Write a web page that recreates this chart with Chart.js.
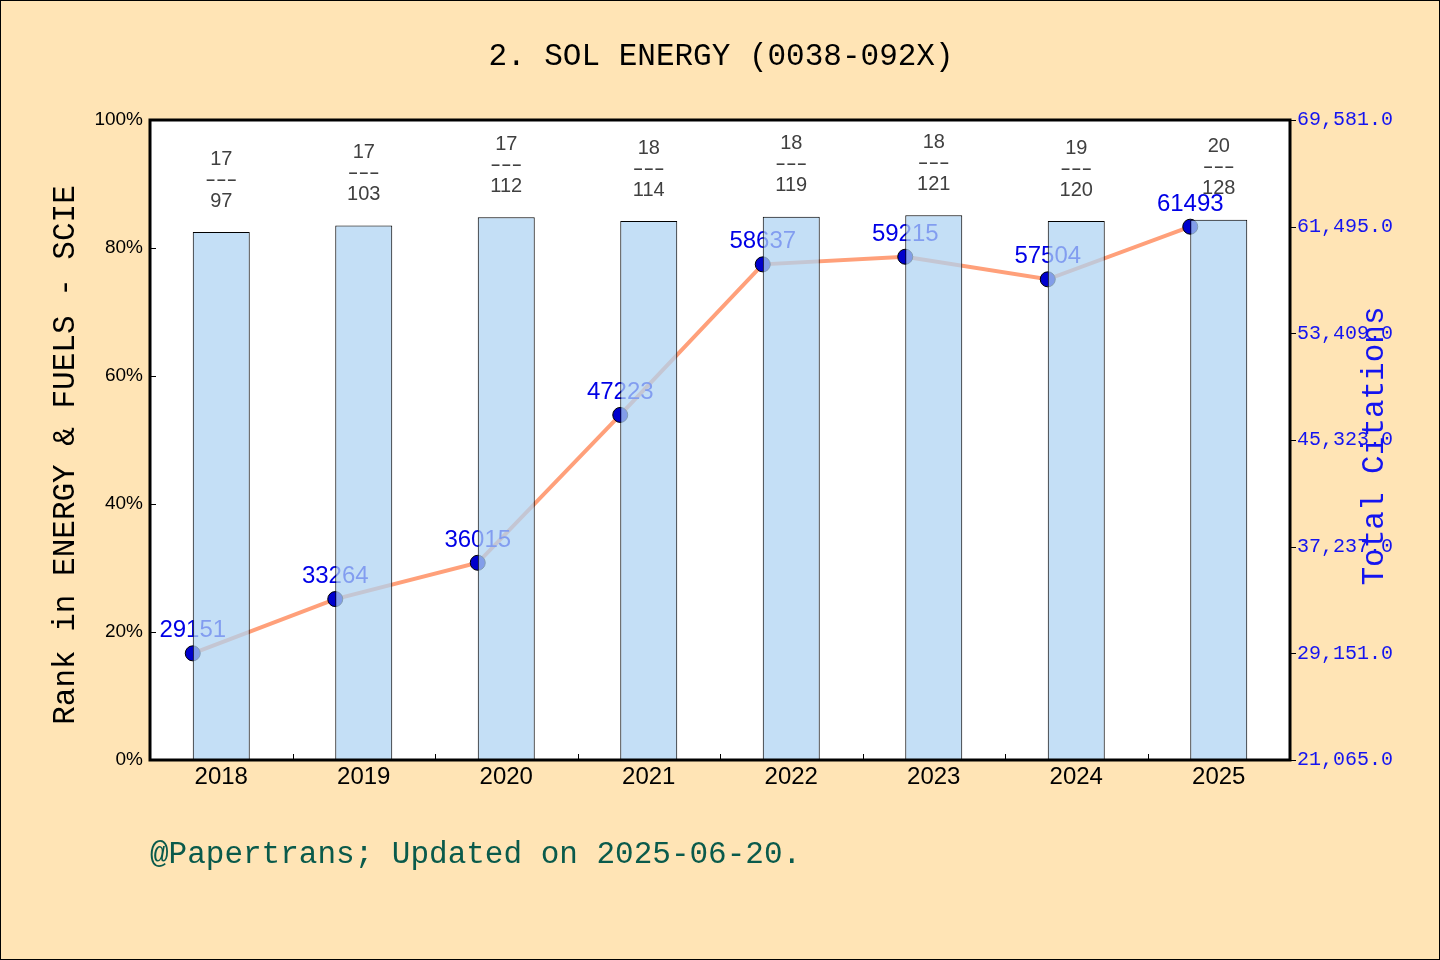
<!DOCTYPE html>
<html>
<head>
<meta charset="utf-8">
<script src="https://cdn.jsdelivr.net/npm/chart.js@4.4.1/dist/chart.umd.min.js"></script>
<style>
html,body{margin:0;padding:0;background:#FFE4B5;}
canvas{display:block;}
</style>
</head>
<body>
<canvas id="c" width="1440" height="960"></canvas>
<script>
// ---- data ----
const TITLE = '2. SOL ENERGY (0038-092X)';
const FOOTER = '@Papertrans; Updated on 2025-06-20.';
const LEFT_TITLE = 'Rank in ENERGY & FUELS - SCIE';
const RIGHT_TITLE = 'Total Citations';
const years = ['2018', '2019', '2020', '2021', '2022', '2023', '2024', '2025'];
const ranks = [17, 17, 17, 18, 18, 18, 19, 20];
const totals = [97, 103, 112, 114, 119, 121, 120, 128];
const percentiles = [0.825, 0.835, 0.848, 0.842, 0.849, 0.851, 0.842, 0.844];
const citations = [29151, 33264, 36015, 47223, 58637, 59215, 57504, 61493];
const leftTicks = [0, 0.2, 0.4, 0.6, 0.8, 1.0];
const rightTicks = [21065, 29151, 37237, 45323, 53409, 61495, 69581];

// ---- styles ----
const W = 1440, H = 960;
const MONO = "'Liberation Mono', 'DejaVu Sans Mono', monospace";
const SANS = "'Liberation Sans', Arial, sans-serif";
const BAR_FRACTION = 0.4;
const POINT_SHIFT = BAR_FRACTION / 2;

const decor = {
  id: 'decor',
  beforeDraw(chart) {
    const c = chart.ctx, a = chart.chartArea;
    c.save();
    c.fillStyle = '#FFE4B5';
    c.fillRect(0, 0, W, H);
    c.fillStyle = '#FFFFFF';
    c.fillRect(a.left, a.top, a.right - a.left, a.bottom - a.top);
    c.restore();
  },
  afterDatasetDraw(chart, args) {
    if (chart.data.datasets[args.index].type !== 'line') return;
    const c = chart.ctx;
    c.save();
    c.font = '24px ' + SANS;
    c.fillStyle = '#0000E6';
    c.textAlign = 'center';
    c.textBaseline = 'alphabetic';
    args.meta.data.forEach((pt, i) => {
      c.fillText(String(citations[i]), pt.x, pt.y - 16);
    });
    c.restore();
  },
  afterDatasetsDraw(chart) {
    const c = chart.ctx, a = chart.chartArea;
    const barMeta = chart.getDatasetMeta(0);
    c.save();
    // rank labels
    c.fillStyle = '#404040';
    c.textAlign = 'center';
    c.textBaseline = 'middle';
    barMeta.data.forEach((bar, i) => {
      c.font = '20px ' + SANS;
      c.fillText(String(ranks[i]), bar.x, bar.y - 73);
      c.save();
      c.translate(bar.x, bar.y - 52);
      c.scale(1.6, 1);
      c.fillText('---', 0, 0);
      c.restore();
      c.fillText(String(totals[i]), bar.x, bar.y - 31);
    });
    // tick marks
    c.strokeStyle = '#000';
    c.lineWidth = 1;
    const ys = chart.scales.y, y2 = chart.scales.y2, xs = chart.scales.x;
    leftTicks.forEach(v => {
      const py = Math.round(ys.getPixelForValue(v)) + 0.5;
      c.beginPath(); c.moveTo(a.left, py); c.lineTo(a.left + 6, py); c.stroke();
    });
    rightTicks.forEach(v => {
      const py = Math.round(y2.getPixelForValue(v)) + 0.5;
      c.beginPath(); c.moveTo(a.right, py); c.lineTo(a.right + 6, py); c.stroke();
    });
    for (let i = 1; i < years.length; i++) {
      const px = Math.round((xs.getPixelForValue(i - 1) + xs.getPixelForValue(i)) / 2) + 0.5;
      c.beginPath(); c.moveTo(px, a.bottom); c.lineTo(px, a.bottom - 6); c.stroke();
    }
    // frame
    c.lineWidth = 3;
    c.strokeRect(a.left, a.top, a.right - a.left, a.bottom - a.top);
    c.restore();
  },
  afterDraw(chart) {
    const c = chart.ctx;
    c.save();
    c.fillStyle = '#000';
    c.textAlign = 'center';
    c.textBaseline = 'middle';
    c.font = '31px ' + MONO;
    c.fillText(TITLE, 721, 57);
    // left title
    c.save();
    c.translate(66, 455);
    c.rotate(-Math.PI / 2);
    c.font = '31px ' + MONO;
    c.fillText(LEFT_TITLE, 0, 0);
    c.restore();
    // right title
    c.save();
    c.translate(1375, 446);
    c.rotate(-Math.PI / 2);
    c.font = '31px ' + MONO;
    c.fillStyle = '#1414F0';
    c.fillText(RIGHT_TITLE, 0, 0);
    c.restore();
    // footer
    c.textAlign = 'left';
    c.fillStyle = '#0A5A4B';
    c.font = '31px ' + MONO;
    c.fillText(FOOTER, 150, 855);
    // outer border
    c.strokeStyle = '#000';
    c.lineWidth = 1;
    c.strokeRect(0.5, 0.5, W - 1, H - 1);
    c.restore();
  }
};

new Chart(document.getElementById('c').getContext('2d'), {
  data: {
    labels: years,
    datasets: [
      {
        type: 'bar',
        label: 'Rank',
        data: percentiles,
        xAxisID: 'x',
        yAxisID: 'y',
        backgroundColor: 'rgba(176,212,243,0.74)',
        borderColor: '#000',
        borderWidth: 1,
        grouped: false,
        barPercentage: BAR_FRACTION,
        categoryPercentage: 1.0,
        order: 0
      },
      {
        type: 'line',
        label: 'Total Citations',
        data: citations.map((v, i) => ({ x: i - POINT_SHIFT, y: v })),
        xAxisID: 'xl',
        yAxisID: 'y2',
        borderColor: '#FFA07A',
        borderWidth: 4,
        tension: 0,
        pointRadius: 7.5,
        pointBackgroundColor: '#0000CD',
        pointBorderColor: '#000',
        pointBorderWidth: 1,
        order: 1
      }
    ]
  },
  options: {
    responsive: false,
    animation: false,
    devicePixelRatio: 1,
    layout: { padding: { top: 120, left: 0, right: 0, bottom: 0 } },
    plugins: {
      legend: { display: false },
      tooltip: { enabled: false },
      title: { display: false }
    },
    scales: {
      x: {
        type: 'category',
        position: 'bottom',
        offset: true,
        grid: { display: false, drawTicks: false },
        border: { display: false },
        ticks: { color: '#000', font: { family: SANS, size: 24 }, padding: 3, maxRotation: 0, autoSkip: false },
        afterFit(s) { s.height = 200; }
      },
      xl: {
        type: 'linear',
        display: false,
        min: -0.5,
        max: years.length - 0.5
      },
      y: {
        type: 'linear',
        position: 'left',
        min: 0,
        max: 1,
        grid: { display: false, drawTicks: false },
        border: { display: false },
        ticks: { color: '#000', font: { family: SANS, size: 19 }, padding: 7, callback: v => Math.round(v * 100) + '%' },
        afterBuildTicks(s) { s.ticks = leftTicks.map(v => ({ value: v })); },
        afterFit(s) { s.width = 150; }
      },
      y2: {
        type: 'linear',
        position: 'right',
        min: rightTicks[0],
        max: rightTicks[rightTicks.length - 1],
        grid: { display: false, drawTicks: false },
        border: { display: false },
        ticks: {
          color: '#1414F0',
          font: { family: MONO, size: 20 },
          padding: 7,
          callback: v => Number(v).toLocaleString('en-US', { minimumFractionDigits: 1, maximumFractionDigits: 1 })
        },
        afterBuildTicks(s) { s.ticks = rightTicks.map(v => ({ value: v })); },
        afterFit(s) { s.width = 150; }
      }
    }
  },
  plugins: [decor]
});
</script>
</body>
</html>
